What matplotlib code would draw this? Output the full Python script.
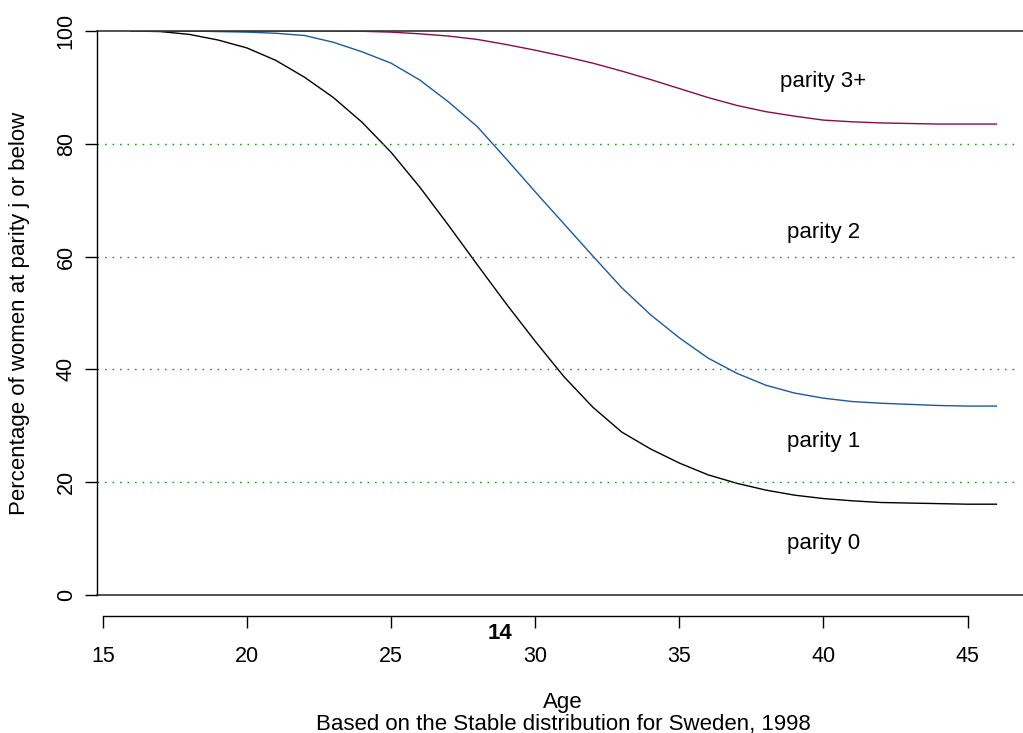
import numpy as np
import matplotlib.pyplot as plt

plt.rcParams['font.family'] = ['Liberation Sans', 'DejaVu Sans']

# data
ages = np.arange(16, 47)
parity0 = [100, 99.9, 99.4, 98.4, 97.0, 94.8, 91.8, 88.2, 83.8, 78.5,
           72.3, 65.5, 58.5, 51.6, 45.0, 38.7, 33.3, 28.9, 25.9, 23.4,
           21.3, 19.8, 18.6, 17.7, 17.1, 16.7, 16.4, 16.3, 16.2, 16.1, 16.1]
parity1 = [100, 100, 100, 99.9, 99.8, 99.6, 99.2, 98.0, 96.3, 94.3,
           91.3, 87.4, 83.0, 77.3, 71.5, 65.8, 60.1, 54.5, 49.7, 45.6,
           42.0, 39.3, 37.2, 35.8, 34.9, 34.3, 34.0, 33.8, 33.6, 33.5, 33.5]
parity2 = [100, 100, 100, 100, 100, 100, 100, 100, 99.95, 99.8,
           99.5, 99.1, 98.5, 97.6, 96.6, 95.5, 94.3, 92.9, 91.4, 89.8,
           88.2, 86.8, 85.7, 84.9, 84.2, 83.9, 83.7, 83.6, 83.5, 83.5, 83.5]
grid_levels = [20, 40, 60, 80]
label_text = ['parity 0', 'parity 1', 'parity 2', 'parity 3+']
label_y = [9.2, 27.3, 64.2, 91.0]
label_x = 40
xticks = [15, 20, 25, 30, 35, 40, 45]
yticks = [0, 20, 40, 60, 80, 100]

W, H = 1023, 733
fig = plt.figure(figsize=(W / 100, H / 100), dpi=100)
# plot region in pixels (R-style, runs slightly past the right edge)
left, right, top, bottom = 97, 1031, 31, 595
ax = fig.add_axes([left / W, 1 - bottom / H, (right - left) / W, (bottom - top) / H])

ax.plot(ages, parity0, color='black', lw=1.0)
ax.plot(ages, parity1, color='#1C5A9C', lw=1.0)
ax.plot(ages, parity2, color='#8B0A50', lw=1.0)

ax.set_xlim(14.8, 47.2)
ax.set_ylim(0, 100)

ax.hlines(grid_levels, 14.8, 46.75, colors='#1a9a1a', linestyles=(0, (1.2, 4.2)), lw=1.0)
for h in (0, 100):
    ax.axhline(h, color='#333333', lw=1.2, clip_on=False)

for t, y in zip(label_text, label_y):
    ax.text(label_x, y, t, ha='center', va='center', fontsize=16)

for s in ('top', 'right'):
    ax.spines[s].set_visible(False)
ax.spines['left'].set_linewidth(1.0)
ax.spines['bottom'].set_position(('outward', 15))
ax.spines['bottom'].set_bounds(15, 45)
ax.spines['bottom'].set_linewidth(1.0)

ax.set_xticks(xticks)
ax.set_yticks(yticks)
ax.tick_params(axis='x', length=8.6, width=1, pad=13, labelsize=15.5)
ax.tick_params(axis='y', length=8.6, width=1, pad=6, labelsize=15.5)
for lab in ax.get_yticklabels():
    lab.set_rotation(90)
    lab.set_va('center')

fig.text(20 / W, 1 - 313 / H, 'Percentage of women at parity j or below',
         rotation=90, ha='center', va='center', fontsize=16)
fig.text(563 / W, 1 - 708 / H, 'Age', ha='center', va='baseline', fontsize=16)
fig.text(563 / W, 1 - 730 / H, 'Based on the Stable distribution for Sweden, 1998',
         ha='center', va='baseline', fontsize=16)
fig.text(500 / W, 1 - 639 / H, '14', ha='center', va='baseline', fontsize=16,
         fontweight='bold')

fig.savefig('out.png', dpi=100)
